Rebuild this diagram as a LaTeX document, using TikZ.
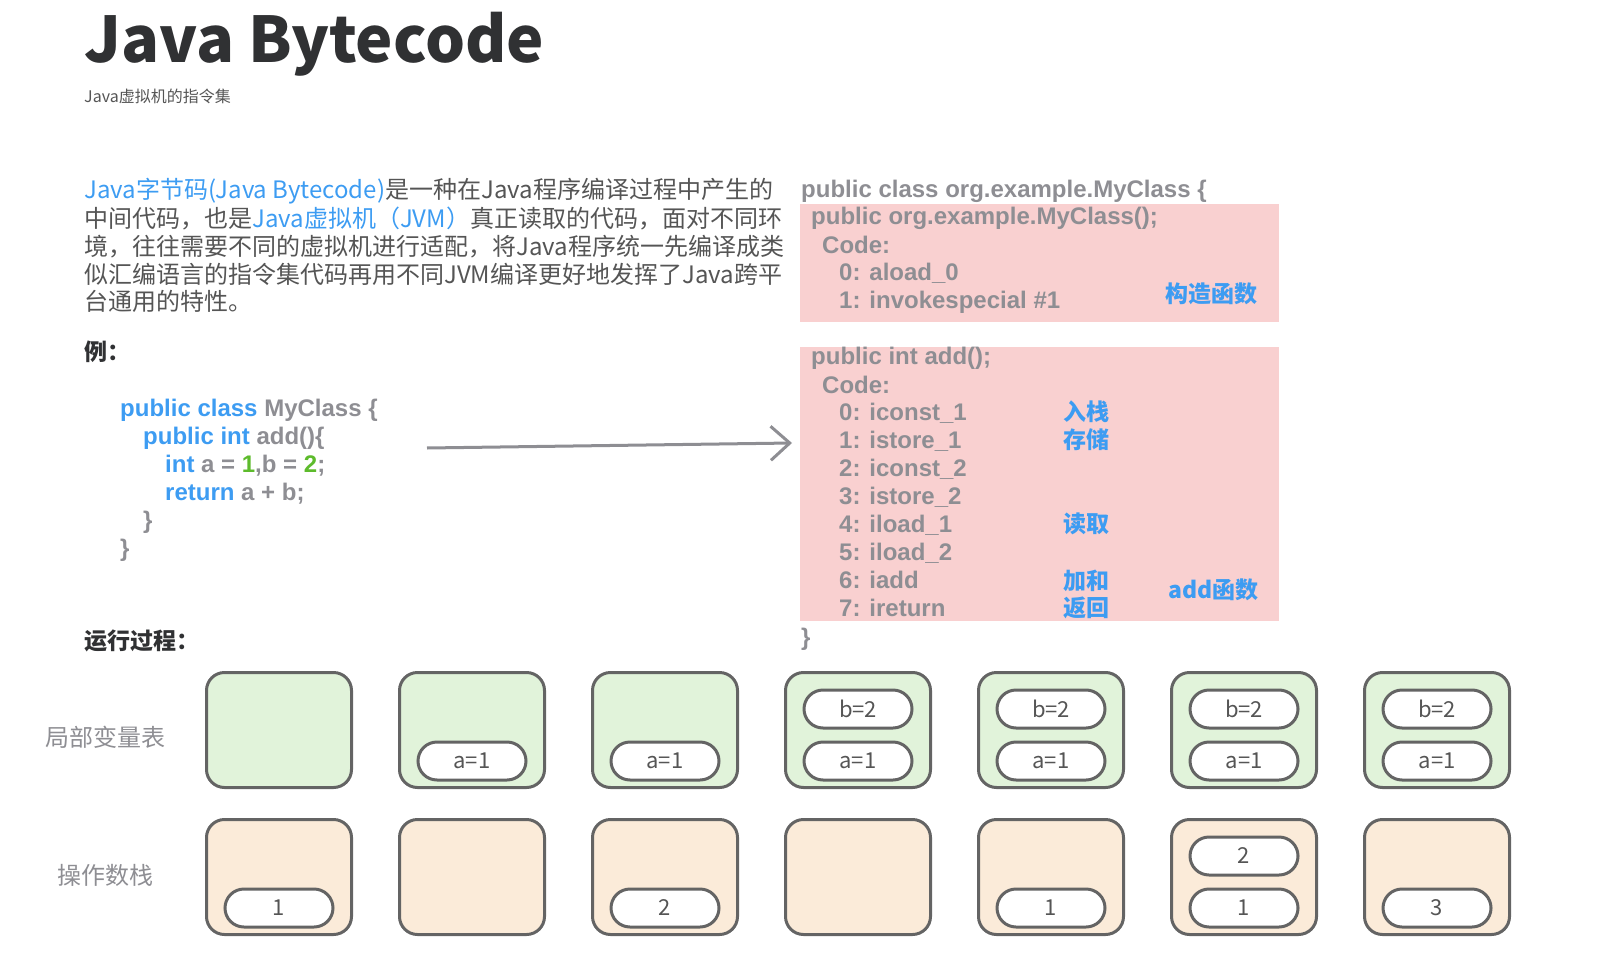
\documentclass[tikz,border=0pt]{standalone}
\usepackage{fontspec}
\setmainfont{Noto Sans CJK SC}
\newfontfamily\codefont{Liberation Sans}
\usepackage{tikz}
\usetikzlibrary{arrows.meta}
\definecolor{BytecodeInk}{HTML}{303133}
\definecolor{BytecodeText}{HTML}{555555}
\definecolor{BytecodeMuted}{HTML}{8E8E93}
\definecolor{BytecodeBlue}{HTML}{3D9CF2}
\definecolor{BytecodeGreen}{HTML}{5DBB2C}
\definecolor{BytecodePink}{HTML}{F9D0D0}
\definecolor{BytecodeLeaf}{HTML}{E1F3DA}
\definecolor{BytecodeSand}{HTML}{FBEBD9}
\definecolor{BytecodeFrame}{HTML}{646464}

\begin{document}
\begin{tikzpicture}[x=1pt,y=-1pt,
    prose/.style={anchor=base west,inner sep=0pt,text=BytecodeText,font=\fontsize{24}{28}\selectfont},
    listing/.style={anchor=base west,inner sep=0pt,text=BytecodeMuted,font=\codefont\bfseries\fontsize{24}{28}\selectfont},
    remark/.style={anchor=base west,inner sep=0pt,text=BytecodeBlue,font=\bfseries\fontsize{23}{28}\selectfont},
    heading/.style={anchor=base west,inner sep=0pt,text=BytecodeInk,font=\bfseries\fontsize{23}{28}\selectfont},
    rowname/.style={inner sep=0pt,text=BytecodeMuted,font=\fontsize{24}{28}\selectfont},
    cell/.style={draw=BytecodeFrame,line width=3pt,rounded corners=18pt,minimum width=145pt,minimum height=115pt},
    slot/.style={draw=BytecodeFrame,line width=3pt,fill=white,rounded corners=19pt,minimum width=108pt,minimum height=38pt,inner sep=0pt,text=BytecodeText,font=\fontsize{22}{26}\selectfont}]
  \useasboundingbox (0,0) rectangle (1600,960);
  \node[anchor=base west,inner sep=0pt,text=BytecodeInk,font=\bfseries\fontsize{63}{72}\selectfont] (title) at (84,63) {Java Bytecode};
  \node[anchor=base west,inner sep=0pt,text=BytecodeText,font=\fontsize{16}{20}\selectfont] (subtitle) at (84,103) {Java虚拟机的指令集};

  \node[prose] (intro1) at (84,199) {{\color{BytecodeBlue}Java字节码(Java Bytecode)}是一种在Java程序编译过程中产生的};
  \node[prose] (intro2) at (84,227) {中间代码，也是{\color{BytecodeBlue}Java虚拟机（JVM）}真正读取的代码，面对不同环};
  \node[prose] (intro3) at (84,255) {境，往往需要不同的虚拟机进行适配，将Java程序统一先编译成类};
  \node[prose] (intro4) at (84,283) {似汇编语言的指令集代码再用不同JVM编译更好地发挥了Java跨平};
  \node[prose] (intro5) at (84,310) {台通用的特性。};

  \node[heading] (example) at (84,360) {例：};
  \node[listing] (src1) at (120,416) {{\color{BytecodeBlue}public class} MyClass \{};
  \node[listing] (src2) at (143,444) {{\color{BytecodeBlue}public int} add()\{};
  \node[listing] (src3) at (165,472) {{\color{BytecodeBlue}int} a = {\color{BytecodeGreen}1},b = {\color{BytecodeGreen}2};};
  \node[listing] (src4) at (165,500) {{\color{BytecodeBlue}return} a + b;};
  \node[listing] (src5) at (143,528) {\}};
  \node[listing] (src6) at (120,556) {\}};

  \coordinate (compilefrom) at (427,448);
  \coordinate (compileto) at (792,443);
  \draw[BytecodeMuted,line width=3pt,-{Straight Barb[length=19pt,width=34pt]}] (compilefrom) -- (compileto);

  \fill[BytecodePink] (800,204) rectangle (1279,322);
  \fill[BytecodePink] (800,347) rectangle (1279,621);
  \node[listing] (cls) at (801,197) {public class org.example.MyClass \{};
  \node[listing] (ctor) at (811,224) {public org.example.MyClass();};
  \node[listing] (ctorcode) at (822,253) {Code:};
  \node[listing] (ctor0) at (839,280) {0: aload\_0};
  \node[listing] (ctor1) at (839,308) {1: invokespecial \#1};
  \node[remark] (ctornote) at (1165,302) {构造函数};

  \node[listing] (add) at (811,364) {public int add();};
  \node[listing] (addcode) at (822,393) {Code:};
  \foreach \op [count=\k from 0] in {iconst\_1,istore\_1,iconst\_2,istore\_2,iload\_1,iload\_2,iadd,ireturn}
    \node[listing] (add\k) at (839,{420+28*\k}) {\k: \op};
  \node[remark] (push) at (1063,420) {入栈};
  \node[remark] (store) at (1063,448) {存储};
  \node[remark] (load) at (1063,532) {读取};
  \node[remark] (sum) at (1063,589) {加和};
  \node[remark] (ret) at (1063,616) {返回};
  \node[remark] (addnote) at (1168,598) {add函数};
  \node[listing] (clsend) at (801,645) {\}};

  \node[heading] (run) at (84,649) {运行过程：};
  \node[rowname] (locals) at (105,737) {局部变量表};
  \node[rowname] (operands) at (105,875) {操作数栈};

  \foreach \i in {1,...,7} {
    \node[cell,fill=BytecodeLeaf] (lv\i) at ({279+193*(\i-1)},730) {};
    \node[cell,fill=BytecodeSand] (os\i) at ({279+193*(\i-1)},877) {};
  }
  \foreach \i in {2,...,7}
    \node[slot] (a\i) at ({279+193*(\i-1)},761) {a=1};
  \foreach \i in {4,...,7}
    \node[slot] (b\i) at ({279+193*(\i-1)},709) {b=2};
  \node[slot] (s1) at (279,908) {1};
  \node[slot] (s3) at (665,908) {2};
  \node[slot] (s5) at (1051,908) {1};
  \node[slot] (s6) at (1244,908) {1};
  \node[slot] (t6) at (1244,856) {2};
  \node[slot] (s7) at (1437,908) {3};
\end{tikzpicture}
\end{document}
